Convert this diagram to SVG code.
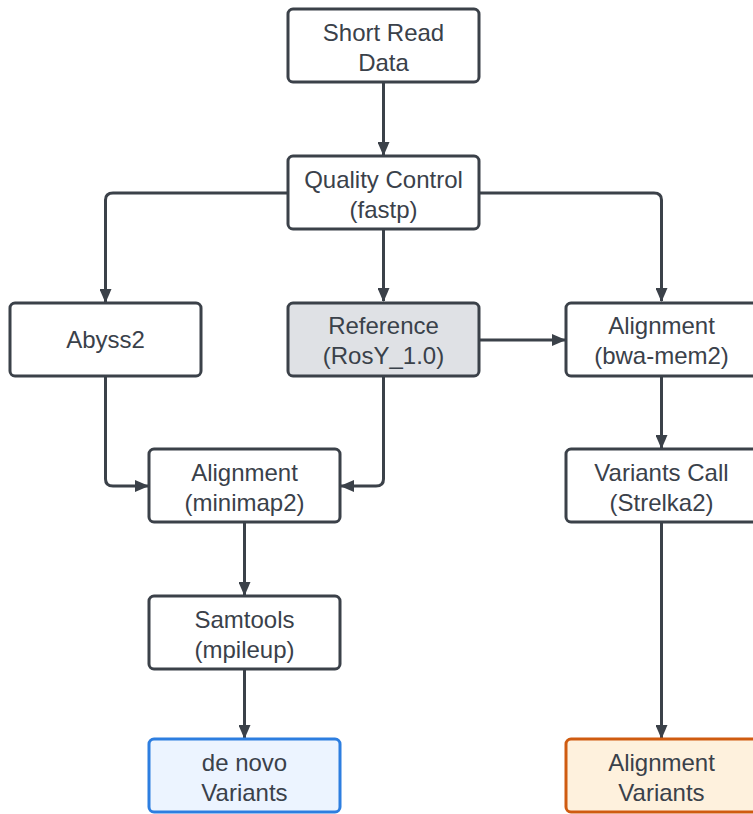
<svg xmlns="http://www.w3.org/2000/svg" width="753" height="814" viewBox="0 0 753 814">
<style>
.n{fill:#ffffff;stroke:#3b4149;stroke-width:3}
.g{fill:#dfe1e5}
.b{fill:#ecf4ff;stroke:#2d7ee0}
.o{fill:#fef1dd;stroke:#cf5b10}
text{font-family:"Liberation Sans",Arial,sans-serif;font-size:24px;fill:#3a414a;text-anchor:middle}
.c path{fill:none;stroke:#3b4149;stroke-width:3;stroke-linejoin:round}
</style>
<defs>
<marker id="a" viewBox="0 0 14 12" refX="13" refY="6" markerWidth="14" markerHeight="12" markerUnits="userSpaceOnUse" orient="auto">
<path d="M0,0 L14,6 L0,12 Z" fill="#3b4149"/>
</marker>
</defs>
<g class="c" id="connectors">
<path d="M383.5,82 V155" marker-end="url(#a)"/>
<path d="M288,193 H113 Q105.5,193 105.5,200 V302" marker-end="url(#a)"/>
<path d="M383.5,229 V301" marker-end="url(#a)"/>
<path d="M479,193 H654 Q661.5,193 661.5,200 V301" marker-end="url(#a)"/>
<path d="M479,340 H565" marker-end="url(#a)"/>
<path d="M105.5,376 V479 Q105.5,486 113,486 H148" marker-end="url(#a)"/>
<path d="M383.5,376 V479 Q383.5,486 376,486 H341" marker-end="url(#a)"/>
<path d="M244.5,522 V595" marker-end="url(#a)"/>
<path d="M244.5,669 V738" marker-end="url(#a)"/>
<path d="M661.5,376 V448" marker-end="url(#a)"/>
<path d="M661.5,522 V738" marker-end="url(#a)"/>
</g>
<g id="short-read"><rect class="n" x="288" y="9" width="191" height="73" rx="5"/><text x="383.5" y="41">Short Read</text><text x="383.5" y="71">Data</text></g>
<g id="qc"><rect class="n" x="288" y="156" width="191" height="73" rx="5"/><text x="383.5" y="188">Quality Control</text><text x="383.5" y="218">(fastp)</text></g>
<g id="abyss2"><rect class="n" x="10" y="303" width="191" height="73" rx="5"/><text x="105.5" y="348">Abyss2</text></g>
<g id="reference"><rect class="n g" x="288" y="303" width="191" height="73" rx="5"/><text x="383.5" y="334">Reference</text><text x="383.5" y="364">(RosY_1.0)</text></g>
<g id="bwa"><rect class="n" x="566" y="303" width="191" height="73" rx="5"/><text x="661.5" y="334">Alignment</text><text x="661.5" y="364">(bwa-mem2)</text></g>
<g id="minimap2"><rect class="n" x="149" y="449" width="191" height="73" rx="5"/><text x="244.5" y="481">Alignment</text><text x="244.5" y="511">(minimap2)</text></g>
<g id="strelka"><rect class="n" x="566" y="449" width="191" height="73" rx="5"/><text x="661.5" y="481">Variants Call</text><text x="661.5" y="511">(Strelka2)</text></g>
<g id="samtools"><rect class="n" x="149" y="596" width="191" height="73" rx="5"/><text x="244.5" y="628">Samtools</text><text x="244.5" y="658">(mpileup)</text></g>
<g id="denovo"><rect class="n b" x="149" y="739" width="191" height="73" rx="5"/><text x="244.5" y="771">de novo</text><text x="244.5" y="801">Variants</text></g>
<g id="align-variants"><rect class="n o" x="566" y="739" width="191" height="73" rx="5"/><text x="661.5" y="771">Alignment</text><text x="661.5" y="801">Variants</text></g>
</svg>
